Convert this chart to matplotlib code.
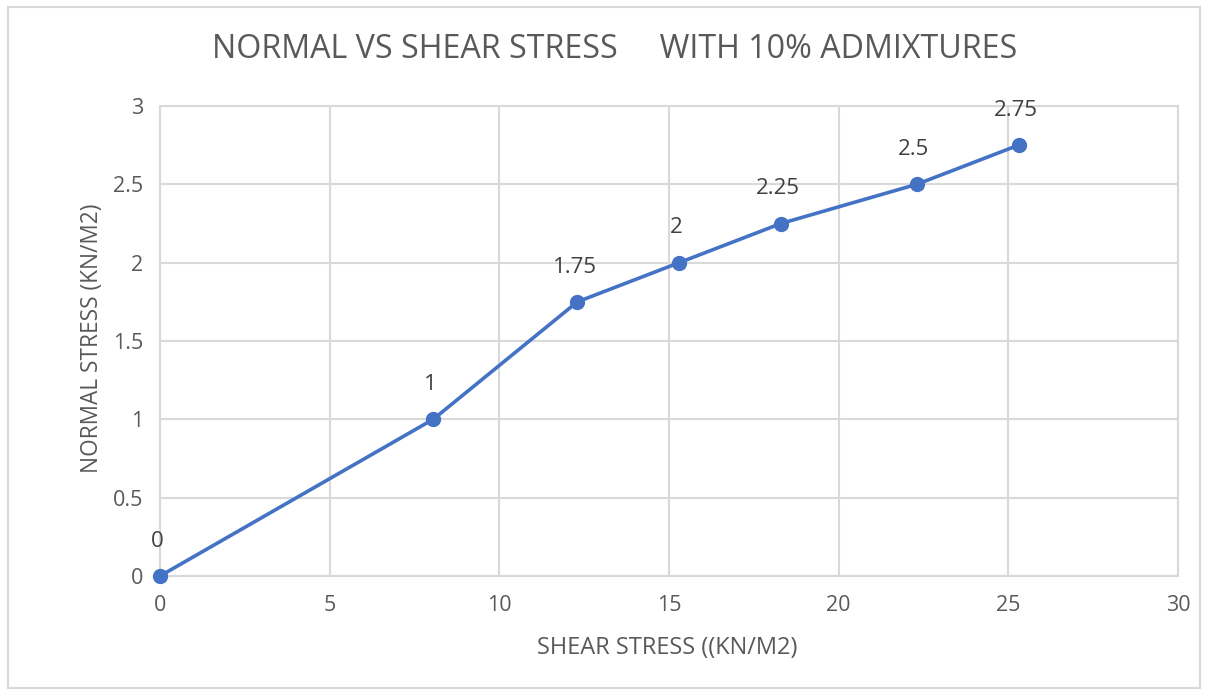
import matplotlib
matplotlib.use("Agg")
import matplotlib.pyplot as plt
from matplotlib.patches import Rectangle

shear_stress = [0, 8.05, 12.3, 15.3, 18.3, 22.3, 25.3]
normal_stress = [0, 1, 1.75, 2, 2.25, 2.5, 2.75]
point_labels = ["0", "1", "1.75", "2", "2.25", "2.5", "2.75"]
x_ticks = [0, 5, 10, 15, 20, 25, 30]
y_ticks = [0, 0.5, 1, 1.5, 2, 2.5, 3]
y_tick_labels = ["0", "0.5", "1", "1.5", "2", "2.5", "3"]

plt.rcParams['font.family'] = ['Open Sans', 'DejaVu Sans']
txt = '#595959'
grid = '#d9d9d9'
blue = '#4472C4'

fig = plt.figure(figsize=(12.1, 6.91), dpi=100)
fig.patches.append(Rectangle((8/1210, 0.005), (1200-8)/1210, 1-7/691-0.005,
                             transform=fig.transFigure, fill=False,
                             edgecolor=grid, linewidth=1.5))
ax = fig.add_axes([160/1210, 1-576/691, (1178-160)/1210, (576-106)/691])
ax.set_xlim(0, 30)
ax.set_ylim(0, 3)
ax.set_xticks(x_ticks)
ax.set_yticks(y_ticks)
ax.set_yticklabels(y_tick_labels)
ax.grid(True, color=grid, linewidth=1.5)
ax.set_axisbelow(True)
for s in ax.spines.values():
    s.set_color(grid)
    s.set_linewidth(1.5)
ax.tick_params(length=0, colors=txt, labelsize=15.5)
ax.tick_params(axis='y', pad=12)
ax.tick_params(axis='x', pad=14)

ax.plot(shear_stress, normal_stress, color=blue, linewidth=2.6, marker='o',
        markersize=10, clip_on=False, zorder=3)
for x, y, lab in zip(shear_stress, normal_stress, point_labels):
    ax.annotate(lab, (x, y), xytext=(-2, 25), textcoords='offset points',
                ha='center', va='center', fontsize=16, color='#404040',
                annotation_clip=False)

fig.text(667/1210, 1-648/691, "SHEAR STRESS ((KN/M2)", ha='center', va='center',
         fontsize=17, color=txt)
fig.text(92/1210, 1-338/691, "NORMAL STRESS (KN/M2)", ha='center', va='center',
         rotation=90, fontsize=16.3, color=txt)
fig.text(615/1210, 1-50/691, "NORMAL VS SHEAR STRESS     WITH 10% ADMIXTURES",
         ha='center', va='center', fontsize=23.2, color=txt)

fig.savefig("out.png", dpi=100)
